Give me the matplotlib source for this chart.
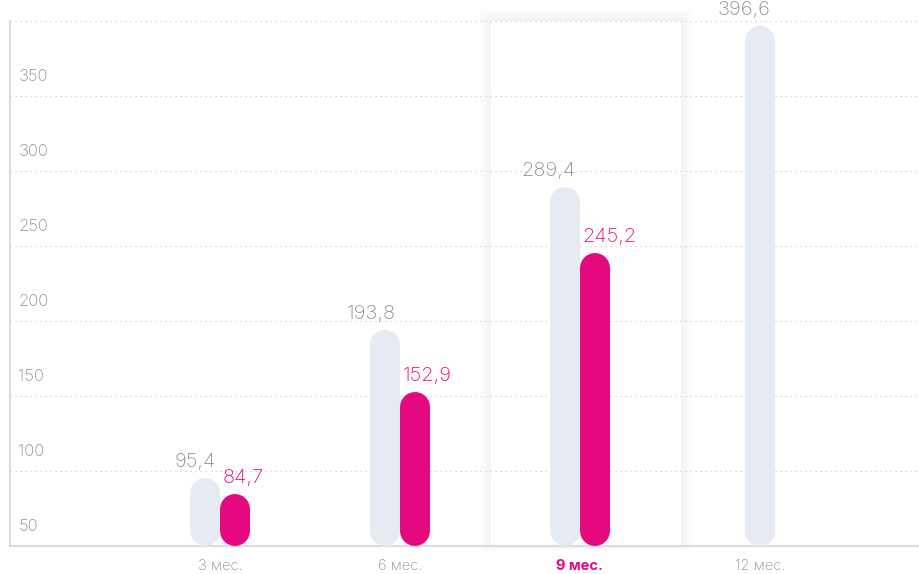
import matplotlib
matplotlib.use('Agg')
from matplotlib import pyplot as plt
from matplotlib.patches import Rectangle
import numpy as np

plt.rcParams['font.family'] = ['Inter', 'DejaVu Sans']

# data
periods = ['3 мес.', '6 мес.', '9 мес.', '12 мес.']
plan = [95.4, 193.8, 289.4, 396.6]
fact = [84.7, 152.9, 245.2, None]
plan_labels = ['95,4', '193,8', '289,4', '396,6']
fact_labels = ['84,7', '152,9', '245,2', None]
yticks = [50, 100, 150, 200, 250, 300, 350]
highlight = 2

GREY_BAR = '#e6ebf2'
PINK = '#e4097f'
TEXT = '#8f8f8f'
GRID = '#cfcfcf'

W, H, DPI = 920, 574, 100
fig = plt.figure(figsize=(W/DPI, H/DPI), dpi=DPI)
ax_l, ax_b, ax_r, ax_t = 10, 28, 920, 553
ax = fig.add_axes([ax_l/W, ax_b/H, (ax_r-ax_l)/W, (ax_t-ax_b)/H])

ymin, ymax = 50, 400
xmin, xmax = -1.1667, 3.889
ax.set_xlim(xmin, xmax)
ax.set_ylim(ymin, ymax)

# px -> data conversions for round caps
px_x = (xmax-xmin)/(ax_r-ax_l)
px_y = (ymax-ymin)/(ax_t-ax_b)
bw_px = 30
bw = bw_px*px_x
cap = bw_px/2*px_y

# highlight panel with soft shadow
hx0, hx1 = 1.506, 2.561
for i in range(12, 0, -1):
    ax.add_patch(Rectangle((hx0-i*px_x, ymin-i*px_y*0.4), hx1-hx0+2*i*px_x, ymax-ymin+i*px_y*1.4,
                           facecolor='black', edgecolor='none', alpha=0.0035, zorder=0.5,
                           clip_on=False))
ax.add_patch(Rectangle((hx0, ymin), hx1-hx0, ymax-ymin, facecolor='white', edgecolor='none', zorder=0.6))

def rbar(xc, top, color):
    # pill-shaped bar: thick line with round caps
    ax.plot([xc, xc], [ymin+cap, top-cap], color=color, linewidth=bw_px*72/DPI,
            solid_capstyle='round', zorder=3)

for i in range(len(periods)):
    if fact[i] is None:
        gx = i
    else:
        gx = i - bw/2
        rbar(i + bw/2, fact[i], PINK)
        ax.annotate(fact_labels[i], (i, fact[i]), xytext=(2, 5), textcoords='offset points',
                    ha='left', va='bottom', color=PINK, fontsize=14.5, fontweight='light', zorder=4)
    rbar(gx, plan[i], GREY_BAR)
    ax.annotate(plan_labels[i], (gx+bw/2, plan[i]), xytext=(-3, 5), textcoords='offset points',
                ha='right', va='bottom', color=TEXT, fontsize=14.5, fontweight='light', zorder=4)

# grid + y labels
for y in range(100, 401, 50):
    ax.axhline(y, color=GRID, linestyle=(0, (1, 3)), linewidth=0.9, zorder=1, clip_on=False)
for y in yticks:
    ax.annotate(str(y), (0, y), xycoords=('axes fraction', 'data'), xytext=(6, 11),
                textcoords='offset points', ha='left', va='baseline', color=TEXT,
                fontsize=12, fontweight='light')

ax.set_yticks([])
ax.set_xticks(range(len(periods)))
ax.set_xticklabels(periods, fontsize=10.5, color=TEXT, fontweight='light')
ax.tick_params(axis='x', length=0, pad=9)
lab = ax.get_xticklabels()[highlight]
lab.set_color(PINK)
lab.set_fontweight('bold')

for s in ['top', 'right']:
    ax.spines[s].set_visible(False)
ax.spines['left'].set_color('#dcdcdc')
ax.spines['bottom'].set_color('#dcdcdc')
ax.spines['left'].set_linewidth(1.5)
ax.spines['bottom'].set_linewidth(1.5)

fig.savefig('out.png', dpi=DPI)
